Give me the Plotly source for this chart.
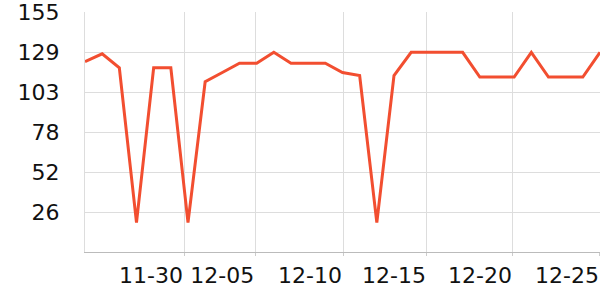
import plotly.graph_objects as go
import pandas as pd

dates = pd.date_range("2023-11-25", periods=31, freq="D")
values = [123, 128, 119, 19, 119, 119, 19, 110, 116, 122, 122, 129, 122, 122, 122,
          116, 114, 19, 114, 129, 129, 129, 129, 113, 113, 113, 129, 113, 113, 113, 129]

y_tick_vals = [25.833, 51.667, 77.5, 103.333, 129.167, 155]
y_tick_text = ["26", "52", "78", "103", "129", "155"]

x_tick_vals = ["2023-11-30 18:30", "2023-12-04 22:00", "2023-12-10 00:45",
               "2023-12-14 22:00", "2023-12-19 22:20", "2023-12-25"]
x_tick_text = ["11-30", "12-05", "12-10", "12-15", "12-20", "12-25"]

fig = go.Figure()
fig.add_trace(go.Scatter(
    x=dates, y=values, mode="lines",
    line=dict(color="#f24e30", width=3),
    hoverinfo="skip",
))

fig.update_layout(
    width=600, height=300,
    margin=dict(l=85, r=0, t=10, b=48),
    paper_bgcolor="white", plot_bgcolor="white",
    showlegend=False,
    font=dict(family="DejaVu Sans", size=22, color="#111"),
)
fig.update_xaxes(
    type="date",
    range=[dates[0], dates[-1] + pd.Timedelta(minutes=2)],
    tickvals=x_tick_vals, ticktext=x_tick_text,
    tickangle=0,
    ticklabelposition="outside left",
    ticklabeloverflow="allow",
    ticklabelstandoff=4,
    showgrid=True, gridcolor="#dddddd", gridwidth=1,
    showline=True, linecolor="#bbbbbb", linewidth=1,
    ticks="outside", ticklen=3, tickcolor="#cccccc",
    zeroline=False,
)
fig.update_yaxes(
    range=[0, 155.05],
    tickvals=y_tick_vals, ticktext=y_tick_text,
    showgrid=True, gridcolor="#dddddd", gridwidth=1,
    showline=True, linecolor="#dddddd", linewidth=1,
    ticks="", ticklabelstandoff=20,
    ticklabeloverflow="allow",
    zeroline=False,
)

fig.write_html("out.html")
